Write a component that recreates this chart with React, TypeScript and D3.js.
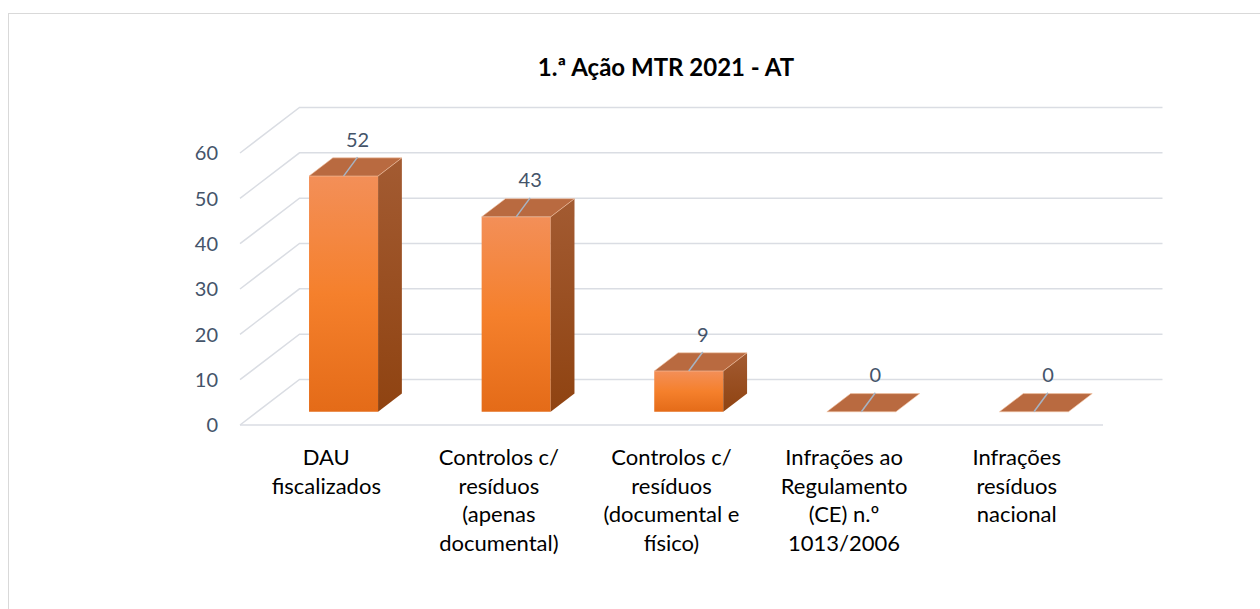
import * as d3 from "d3";
import { useEffect, useRef } from "react";

// chart data
const title = "1.ª Ação MTR 2021 - AT";
const categories = [
  "DAU fiscalizados",
  "Controlos c/ resíduos (apenas documental)",
  "Controlos c/ resíduos (documental e físico)",
  "Infrações ao Regulamento (CE) n.º 1013/2006",
  "Infrações resíduos nacional",
];
const categoryLines = [
  ["DAU", "fiscalizados"],
  ["Controlos c/", "resíduos", "(apenas", "documental)"],
  ["Controlos c/", "resíduos", "(documental e", "físico)"],
  ["Infrações ao", "Regulamento", "(CE) n.º", "1013/2006"],
  ["Infrações", "resíduos", "nacional"],
];
const values = [52, 43, 9, 0, 0];
const yTicks = [0, 10, 20, 30, 40, 50, 60];

export default function App() {
  const svgRef = useRef<SVGSVGElement>(null);

  const width = 1260;
  const height = 609;
  // front plane of the 3d box, and the depth offset of the back wall
  const front = { left: 240, right: 1103, bottom: 425, top: 153 };
  const depth = { dx: 59.5, dy: -45.5 };
  const zFront = 0.29;
  const zBack = 0.69;

  useEffect(() => {
    const svg = d3.select(svgRef.current);
    svg.selectAll("*").remove();

    const font = "Lato, 'Open Sans', sans-serif";

    const x = d3
      .scaleBand()
      .domain(categories)
      .range([front.left, front.right])
      .padding(0);
    const y = d3.scaleLinear().domain([0, 60]).range([front.bottom, front.top]);

    const proj = (px: number, py: number, z: number): [number, number] => [
      px + depth.dx * z,
      py + depth.dy * z,
    ];
    const poly = (pts: [number, number][]) => "M" + pts.map((p) => p.join(",")).join("L") + "Z";

    // gradients
    const defs = svg.append("defs");
    const fg = defs
      .append("linearGradient")
      .attr("id", "frontGrad")
      .attr("x1", 0)
      .attr("y1", 0)
      .attr("x2", 0)
      .attr("y2", 1);
    fg.append("stop").attr("offset", "0%").attr("stop-color", "#f38f58");
    fg.append("stop").attr("offset", "50%").attr("stop-color", "#f5802c");
    fg.append("stop").attr("offset", "100%").attr("stop-color", "#e46b18");
    const sg = defs
      .append("linearGradient")
      .attr("id", "sideGrad")
      .attr("x1", 0)
      .attr("y1", 0)
      .attr("x2", 0)
      .attr("y2", 1);
    sg.append("stop").attr("offset", "0%").attr("stop-color", "#a35b32");
    sg.append("stop").attr("offset", "100%").attr("stop-color", "#8f4311");

    // chart area frame
    svg
      .append("rect")
      .attr("x", 8.5)
      .attr("y", 13.5)
      .attr("width", 1400)
      .attr("height", 800)
      .attr("fill", "#fff")
      .attr("stroke", "#d9d9d9")
      .attr("stroke-width", 1);

    // title
    svg
      .append("text")
      .attr("x", 666)
      .attr("y", 76)
      .attr("text-anchor", "middle")
      .attr("font-family", font)
      .attr("font-weight", 700)
      .attr("font-size", 24)
      .attr("fill", "#000")
      .text(title);

    // gridlines: side wall diagonal + back wall horizontal
    const grid = svg.append("g").attr("fill", "none").attr("stroke", "#dadde3").attr("stroke-width", 1.5);
    yTicks.forEach((t) => {
      const a = proj(front.left, y(t), 0);
      const b = proj(front.left, y(t), 1);
      const c = proj(front.right, y(t), 1);
      grid.append("path").attr("d", `M${a}L${b}L${c}`);
    });
    grid
      .append("line")
      .attr("x1", front.left)
      .attr("x2", front.right)
      .attr("y1", y(0))
      .attr("y2", y(0));

    // y tick labels
    svg
      .append("g")
      .selectAll("text")
      .data(yTicks)
      .enter()
      .append("text")
      .attr("x", 218)
      .attr("y", (d) => y(d))
      .attr("dy", "0.36em")
      .attr("text-anchor", "end")
      .attr("font-family", font)
      .attr("font-size", 20)
      .attr("fill", "#44546a")
      .text((d) => d);

    // bars
    const bw = x.bandwidth() * 0.4;
    const bars = svg.append("g");
    values.forEach((v, i) => {
      const x0 = (x(categories[i]) as number) + (x.bandwidth() - bw) / 2;
      const x1 = x0 + bw;
      const g = bars.append("g");
      if (v > 0) {
        g.append("path")
          .attr("d", poly([proj(x0, y(0), zFront), proj(x1, y(0), zFront), proj(x1, y(v), zFront), proj(x0, y(v), zFront)]))
          .attr("fill", "url(#frontGrad)");
        g.append("path")
          .attr("d", poly([proj(x1, y(0), zFront), proj(x1, y(0), zBack), proj(x1, y(v), zBack), proj(x1, y(v), zFront)]))
          .attr("fill", "url(#sideGrad)");
      }
      g.append("path")
        .attr("d", poly([proj(x0, y(v), zFront), proj(x1, y(v), zFront), proj(x1, y(v), zBack), proj(x0, y(v), zBack)]))
        .attr("fill", "#b96a40")
        .attr("stroke", "#f3c4a4")
        .attr("stroke-width", 0.6);
    });

    // value labels with leader lines
    const labels = svg.append("g");
    values.forEach((v, i) => {
      const cx = (x(categories[i]) as number) + x.bandwidth() / 2;
      const [px, py] = proj(cx, y(v), zFront);
      const ex = px + 14;
      const ey = py - 19;
      labels
        .append("line")
        .attr("x1", px)
        .attr("y1", py)
        .attr("x2", ex)
        .attr("y2", ey)
        .attr("stroke", "#a6b4c4")
        .attr("stroke-width", 1.5);
      labels
        .append("text")
        .attr("x", ex)
        .attr("y", ey - 10.5)
        .attr("text-anchor", "middle")
        .attr("font-family", font)
        .attr("font-size", 20)
        .attr("fill", "#44546a")
        .text(v);
    });

    // category labels
    const cats = svg.append("g");
    categoryLines.forEach((lines, i) => {
      const cx = (x(categories[i]) as number) + x.bandwidth() / 2;
      const t = cats
        .append("text")
        .attr("text-anchor", "middle")
        .attr("font-family", font)
        .attr("font-size", 22)
        .attr("fill", "#000");
      lines.forEach((ln, k) => {
        t.append("tspan").attr("x", cx).attr("y", 465 + k * 28.7).text(ln);
      });
    });
  }, []);

  return (
    <svg
      ref={svgRef}
      width={width}
      height={height}
      style={{ position: "absolute", left: 0, top: 0 }}
    />
  );
}
